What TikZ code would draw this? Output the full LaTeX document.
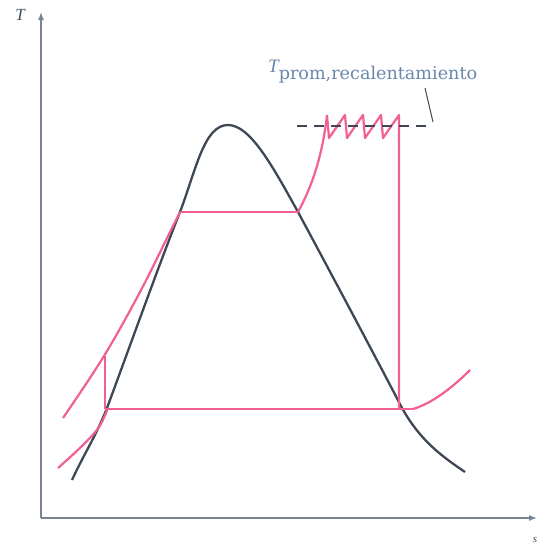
\documentclass[tikz,border=0pt]{standalone}
\usepackage{fontspec}
\setmainfont{Liberation Serif}
\newfontfamily\labfont{DejaVu Serif}
\usetikzlibrary{arrows.meta}
\definecolor{pinkc}{RGB}{242,96,146}
\definecolor{domec}{RGB}{62,72,84}
\definecolor{axisc}{RGB}{120,132,145}
\definecolor{textc}{RGB}{105,135,170}
\tikzset{
  cyc/.style={draw=pinkc, line width=2.2pt, line join=round},
  dome/.style={draw=domec, line width=2.3pt},
  axisline/.style={draw=axisc, line width=1.4pt, -{Latex[length=8pt,width=6pt]}},
  avg/.style={draw=domec, line width=1.3pt, dash pattern=on 10pt off 7pt},
}
\begin{document}
\begin{tikzpicture}[x=1pt,y=-1pt]
\useasboundingbox (0,0) rectangle (538,546);
% axes
\coordinate (O) at (41,518);
\coordinate (Ttop) at (41,12);
\coordinate (Send) at (537,518);
\draw[axisline] (O) -- (Ttop);
\draw[axisline] (O) -- (Send);
\node[font=\itshape\fontsize{17}{17}\selectfont, text=textc!60!black] (Tlab) at (20,15) {T};
\node[font=\itshape\fontsize{11}{11}\selectfont, text=textc!60!black] (slab) at (535,540) {s};
% saturation dome
\draw[dome] (72,480) .. controls (85,452) and (96,436) .. (107,408)
  .. controls (130,346) and (160,262) .. (180,212)
  .. controls (196,170) and (204,125) .. (228,125)
  .. controls (250,125) and (272,165) .. (298,212)
  .. controls (340,290) and (385,375) .. (402,408)
  .. controls (420,440) and (440,455) .. (465,472);
% liquid lines
\draw[cyc] plot[smooth, tension=0.6] coordinates {(58,468) (82,446) (99,427) (108,408)};
\draw[cyc] plot[smooth, tension=0.6] coordinates {(63,418) (104,356) (140,292) (168,236) (180,212)};
% pump
\coordinate (p1) at (105,409);
\coordinate (p2) at (105,356);
\draw[cyc] (p1) -- (p2);
% condenser line
\coordinate (c2) at (413,409);
\draw[cyc] (p1) -- (c2);
\draw[cyc] (c2) .. controls (430,404) and (450,390) .. (470,370);
% evaporation
\coordinate (e1) at (180,212);
\coordinate (e2) at (298,212);
\draw[cyc] (e1) -- (e2);
% superheat
\draw[cyc] (e2) .. controls (310,190) and (322,160) .. (327,115);
% reheat zigzag
\draw[cyc] (327,115) -- (329,138) -- (345,115) -- (347,138) -- (363,115) -- (365,138) -- (381,115) -- (383,138) -- (399,115) -- (399,409);
% average temperature dashed line
\coordinate (d1) at (297,126);
\coordinate (d2) at (433,126);
\draw[avg] (d1) -- (d2);
% label
\node[anchor=base west, inner sep=0pt, text=textc] (lab) at (268,72) {\fontsize{19}{19}\selectfont\itshape T\raisebox{-7pt}{\labfont\upshape\fontsize{17.6}{17.6}\selectfont prom,recalentamiento}};
\coordinate (l1) at (425,88);
\coordinate (l2) at (433,122);
\draw[domec, line width=1pt] (l1) -- (l2);
\end{tikzpicture}
\end{document}
